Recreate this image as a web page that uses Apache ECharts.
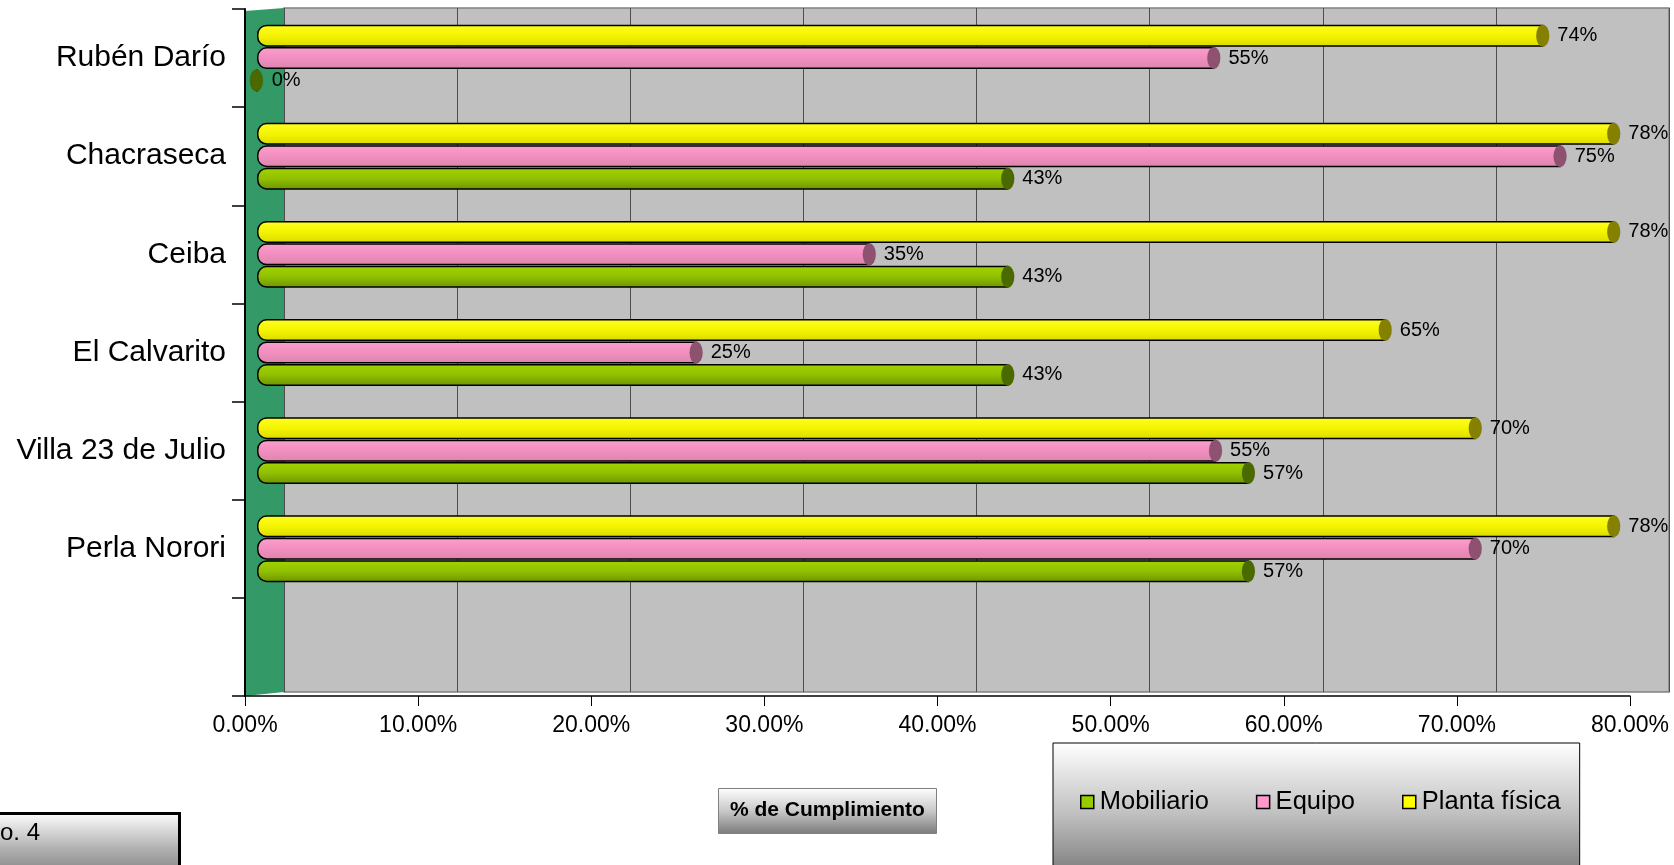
<!DOCTYPE html>
<html>
<head>
<meta charset="utf-8">
<script src="https://cdn.jsdelivr.net/npm/echarts@6/dist/echarts.min.js"></script>
<style>
html,body{margin:0;padding:0;background:#fff;}
#c{width:1674px;height:865px;}
</style>
</head>
<body>
<div id="c"></div>
<script>
// ---- data (top to bottom) ----
const categories = ['Rubén Darío', 'Chacraseca', 'Ceiba', 'El Calvarito', 'Villa 23 de Julio', 'Perla Norori', ''];
const plantaFisica = [74.3, 78.4, 78.4, 65.2, 70.4, 78.4, null];
const equipo       = [55.3, 75.3, 35.4, 25.4, 55.4, 70.4, null];
const mobiliario   = [0,    43.4, 43.4, 43.4, 57.3, 57.3, null];
const xTicks = [0, 10, 20, 30, 40, 50, 60, 70, 80];
const seriesNames = ['Mobiliario', 'Equipo', 'Planta física'];

const FONT = 'Liberation Sans, Arial, sans-serif';
const chart = echarts.init(document.getElementById('c'));
const G = echarts.graphic;
const grad = (stops) => new G.LinearGradient(0, 0, 0, 1, stops.map((c, i) => ({offset: i / (stops.length - 1), color: c})));

const fills = {
  'Planta física': grad(['#FFFF20', '#F4F400', '#DADA00']),
  'Equipo': grad(['#FAA0CC', '#F28EC0', '#DA86AA']),
  'Mobiliario': grad(['#A2D400', '#90C000', '#6C9400'])
};
const caps = {'Planta física': '#858000', 'Equipo': '#8E5270', 'Mobiliario': '#4A6A00'};
const legendColors = {'Mobiliario': '#99CC00', 'Equipo': '#FF99CC', 'Planta física': '#FFFF00'};
const values = {'Planta física': plantaFisica, 'Equipo': equipo, 'Mobiliario': mobiliario};
const order = ['Planta física', 'Equipo', 'Mobiliario']; // top to bottom inside each band

const BAR_W = 22, BAR_GAP = '2%';

const series = [];
order.forEach(name => {
  series.push({
    name: name, type: 'bar', xAxisIndex: 2, yAxisIndex: 2,
    data: values[name], barWidth: BAR_W, barGap: BAR_GAP,
    itemStyle: {color: fills[name], borderColor: '#000', borderWidth: 1.5, borderRadius: [9, 0, 0, 9]},
    label: {show: true, position: 'right', distance: 14, color: '#000', fontFamily: FONT, fontSize: 20,
      formatter: p => Math.round(p.value) + '%'},
    z: 2
  });
});
order.forEach(name => {
  series.push({
    name: name, type: 'pictorialBar', xAxisIndex: 2, yAxisIndex: 2,
    data: values[name], barWidth: BAR_W, barGap: BAR_GAP,
    symbol: 'circle', symbolSize: [13, '100%'], symbolPosition: 'end', symbolOffset: ['50%', 0],
    itemStyle: {color: caps[name], borderColor: '#000', borderWidth: 1.5},
    z: 3, silent: true
  });
});

const option = {
  animation: false,
  backgroundColor: '#ffffff',
  title: [
    {
      text: '% de Cumplimiento', left: 718, top: 788,
      padding: [12, 12, 13, 12],
      backgroundColor: grad(['#ffffff', '#c8c8c8', '#7a7a7a']),
      borderColor: '#808080', borderWidth: 1,
      textStyle: {fontFamily: FONT, fontSize: 21, fontWeight: 'bold', color: '#000'}
    },
    {
      text: 'o. 4', left: -8, top: 813,
      padding: [8, 140, 40, 8],
      backgroundColor: grad(['#ffffff', '#b0b0b0', '#707070']),
      borderColor: '#000', borderWidth: 3,
      textStyle: {fontFamily: FONT, fontSize: 24, fontWeight: 'normal', color: '#000'}
    }
  ],
  legend: {
    left: 1053, top: 743,
    padding: [46, 19, 70, 27],
    itemGap: 47, itemWidth: 13, itemHeight: 13,
    backgroundColor: grad(['#ffffff', '#c0c0c0', '#707070']),
    borderColor: '#000', borderWidth: 1,
    textStyle: {fontFamily: FONT, fontSize: 25.5, color: '#000', padding: [0, 0, 0, 1]},
    icon: 'rect',
    data: seriesNames.map(n => ({name: n, itemStyle: {color: legendColors[n], borderColor: '#000', borderWidth: 1.5}}))
  },
  graphic: [
    {type: 'polygon', z: 1, shape: {points: [[245, 11], [284, 8], [284, 692], [245, 696]]},
      style: {fill: '#339966'}}
  ],
  grid: [
    {left: 284, top: 8, width: 1385, height: 684, show: true, backgroundColor: '#C0C0C0', borderColor: '#808080', borderWidth: 1.5},
    {left: 245, top: 9, width: 1385, height: 687},
    {left: 257, top: 9, width: 1385, height: 687}
  ],
  xAxis: [
    {gridIndex: 0, type: 'value', min: 0, max: 80, interval: 10,
      axisLine: {show: false}, axisTick: {show: false}, axisLabel: {show: false},
      splitLine: {show: true, lineStyle: {color: '#4d4d4d', width: 1}}},
    {gridIndex: 1, type: 'value', min: xTicks[0], max: xTicks[xTicks.length - 1], interval: 10, z: 5,
      axisLine: {show: true, lineStyle: {color: '#000', width: 1.5}},
      axisTick: {show: true, length: 10, lineStyle: {color: '#000', width: 1}},
      axisLabel: {show: true, margin: 18, color: '#000', fontFamily: FONT, fontSize: 23,
        formatter: v => v.toFixed(2) + '%'},
      splitLine: {show: false}},
    {gridIndex: 2, type: 'value', min: 0, max: 80, show: false, splitLine: {show: false}}
  ],
  yAxis: [
    {gridIndex: 0, type: 'category', data: categories, inverse: true, show: false},
    {gridIndex: 1, type: 'category', data: categories, inverse: true, z: 5,
      axisLine: {show: true, lineStyle: {color: '#000', width: 2}},
      axisTick: {show: true, length: 13, lineStyle: {color: '#000', width: 1.5}},
      axisLabel: {show: true, margin: 19, color: '#000', fontFamily: FONT, fontSize: 30},
      splitLine: {show: false}},
    {gridIndex: 2, type: 'category', data: categories, inverse: true, show: false}
  ],
  series: series
};
chart.setOption(option);
</script>
</body>
</html>
